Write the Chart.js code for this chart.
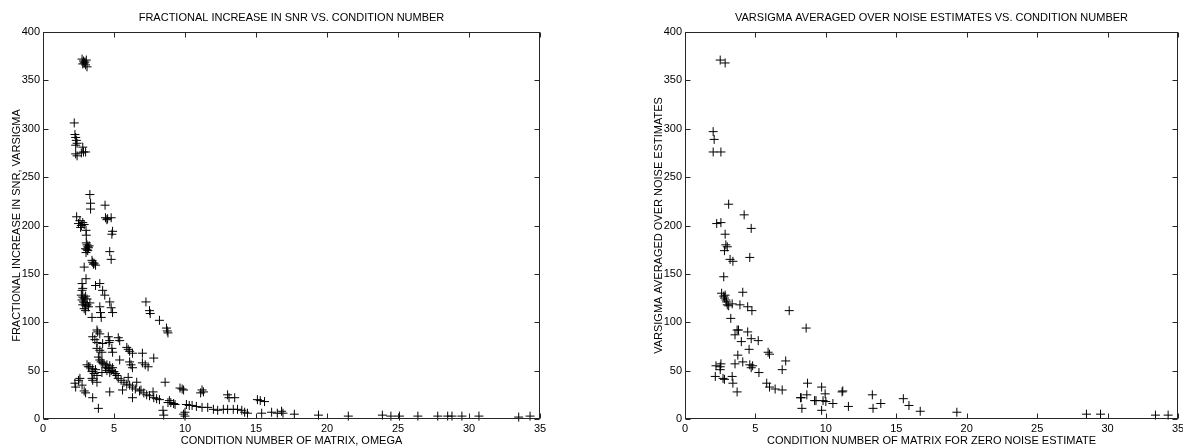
<!DOCTYPE html>
<html>
<head>
<meta charset="utf-8">
<script src="https://cdn.jsdelivr.net/npm/chart.js@4.4.1/dist/chart.umd.min.js"></script>
<style>
  html, body { margin: 0; padding: 0; background: #fff; width: 1183px; height: 448px; overflow: hidden; position: relative; }
  canvas { position: absolute; top: 0; }
  #snrChart { left: 0; }
  #avgChart { left: 642px; }
</style>
</head>
<body>
<canvas id="snrChart" width="600" height="448"></canvas>
<canvas id="avgChart" width="600" height="448"></canvas>
<script>
// tick values (same on both plots)
const condTicks = [0, 5, 10, 15, 20, 25, 30, 35];
const sigmaTicks = [0, 50, 100, 150, 200, 250, 300, 350, 400];

// left plot: [condition number of omega, fractional increase in SNR]
const snrPoints = [
  [2.75,372],[2.85,370],[2.95,369],[3.05,371],[2.8,367],[3.0,366],[3.1,364],[2.9,368],
  [2.2,306],[2.25,294],[2.3,291],[2.35,288],[2.4,285],[2.3,283],[2.3,274],[2.4,272],[2.8,281],[2.85,276],[2.7,275],[3.0,276],
  [3.3,232],[3.35,223],[3.35,217],[4.37,221],[2.37,209],[2.6,205],[2.5,202],[2.7,200],[2.8,203],[2.65,198],[2.9,201],
  [4.4,208],[4.55,207],[4.8,208],[4.5,206],[4.9,194],[4.85,191],[3.03,195],[3.05,190],
  [3.05,182],[3.1,180],[3.15,178],[3.2,177],[3.1,175],[3.0,176],[3.25,179],[3.15,174],[3.03,172],
  [4.7,173],[4.8,165],[3.45,164],[3.5,162],[3.6,161],[3.7,159],[3.55,160],[2.9,157],
  [3.03,145],[2.75,140],[2.8,135],[2.75,133],[3.7,138],[4.0,140],[4.2,133],[4.35,128],
  [2.7,128],[2.8,126],[2.9,125],[3.0,127],[2.75,123],[2.85,121],[2.95,120],[3.1,118],[3.2,116],[2.9,114],[3.0,117],[3.3,120],[3.1,124],[2.8,118],[3.0,112],
  [4.0,116],[4.05,110],[4.1,105],[3.45,105],[4.7,121],[4.8,115],[4.9,110],
  [7.25,121],[7.5,112],[7.55,109],[8.2,102],[8.7,94],[8.75,91],[8.8,89],
  [3.8,92],[3.85,90],[4.0,88],[3.5,85],[3.65,82],[3.8,79],[4.6,85],[4.7,81],[4.65,79],[5.3,84],[5.4,81],[4.2,78],
  [3.8,73],[4.0,71],[4.15,69],[4.85,73],[4.9,69],[5.9,74],[6.0,72],[6.1,70],[6.3,68],[7.0,68],[7.8,63],
  [3.9,64],[4.0,61],[4.1,59],[4.2,58],[5.4,61],[6.1,59],[6.2,56],[6.3,53],[7.0,58],[7.2,56],[7.4,54],
  [4.3,57],[4.5,56],[4.7,55],[4.9,53],[4.6,52],[4.8,50],[5.0,49],[5.1,47],[5.2,45],[4.4,53],[4.5,50],[4.7,48],
  [3.1,56],[3.3,54],[3.5,52],[3.7,51],[3.45,49],[3.6,47],[3.8,45],[4.15,48],
  [5.3,42],[5.5,40],[5.7,38],[5.9,36],[6.0,43],[6.1,35],[6.3,33],[6.5,31],[6.8,29],[6.6,38],[6.9,30],[7.1,27],[7.3,25],[7.75,28],[8.6,38],
  [7.5,24],[7.8,22],[8.0,21],[8.2,20],[8.9,19],[9.0,17],[9.2,16],[9.3,15],[8.8,17],[9.65,32],[9.8,31],[9.9,30],[11.2,30],[11.3,28],[11.1,27],
  [10.1,15],[10.3,14],[10.5,14],[10.8,13],[11.2,12],[11.6,12],[12.0,10],[12.3,9],[10.0,7],[10.0,3],[9.9,5],[8.45,9],[8.5,4],
  [2.25,37],[2.3,33],[2.5,40],[2.6,42],[2.75,35],[2.9,29],[3.0,27],[3.45,42],[3.5,40],[3.2,54],[3.8,38],[4.7,28],[5.6,30],[6.3,22],[3.9,11],[3.5,22],
  [13.0,25],[13.1,22],[13.5,22],[12.7,10],[13.0,10],[13.4,10],[13.7,10],[14.0,9],[14.2,7],[14.4,6],[15.1,20],[15.3,19],[15.6,18],[15.4,6],
  [16.1,7],[16.5,6],[16.9,6],[16.8,8],[17.7,5],[19.4,4],[21.5,3],[23.9,4],[24.5,3],[25.1,3],[26.4,3],[27.8,3],[28.5,3],[28.8,3],[29.5,3],[30.7,3],[33.5,2],[34.3,3]
];

// right plot: [condition number for zero noise estimate, averaged varsigma]
const avgPoints = [
  [2.5,371],[2.85,368],[2.0,297],[2.07,289],[2.0,276],[2.55,276],[3.1,222],[4.2,211],[2.25,202],[2.55,203],[4.7,197],[2.85,191],
  [2.9,180],[3.0,178],[2.8,174],[3.2,165],[3.4,163],[4.6,167],[2.75,147],
  [2.6,130],[2.75,127],[2.8,125],[2.9,123],[2.95,121],[3.0,118],[3.1,117],[2.85,128],[3.35,119],[4.1,131],[3.9,118],[4.45,116],[4.75,112],
  [3.25,104],[3.7,92],[3.8,92],[3.55,87],[4.45,90],[4.0,80],[4.7,83],[5.2,81],[4.55,72],[3.75,66],[3.55,57],[4.1,59],
  [4.6,56],[4.8,55],[4.7,53],[5.25,48],[5.9,69],[6.0,67],[5.8,37],[6.0,33],[6.4,31],[6.9,30],[6.9,51],[7.15,60],[7.4,112],[8.6,94],
  [2.2,55],[2.55,57],[2.5,54],[2.15,44],[2.5,51],[2.7,42],[2.8,41],[3.35,44],[3.4,37],[3.7,28],
  [8.2,22],[8.25,22],[8.3,11],[8.7,37],[8.65,25],[9.2,19],[9.3,19],[9.7,33],[9.8,19],[9.7,9],[9.95,26],[10.0,18],[10.5,16],[11.15,28],[11.2,29],[11.6,13],
  [13.3,25],[13.35,11],[13.9,16],[15.5,21],[15.9,14],[16.7,8],[19.3,7],[28.5,5],[29.5,5],[33.4,4],[34.3,4]
];

const FONT = { family: "'Liberation Sans', Arial, Helvetica, sans-serif", size: 11 };

// box round the plot with inward ticks on all four sides, like the original
const boxTicks = {
  id: 'boxTicks',
  afterDraw(chart) {
    const { ctx, chartArea: a } = chart;
    const xs = chart.scales.x, ys = chart.scales.y;
    const L = Math.round(a.left) + 0.5, R = Math.round(a.right) - 0.5;
    const T = Math.round(a.top) + 0.5, B = Math.round(a.bottom) - 0.5;
    ctx.save();
    ctx.strokeStyle = '#262626';
    ctx.lineWidth = 1;
    ctx.beginPath();
    xs.ticks.forEach(t => {
      const px = Math.round(xs.getPixelForValue(t.value)) + 0.5;
      ctx.moveTo(px, B); ctx.lineTo(px, B - 5);
      ctx.moveTo(px, T); ctx.lineTo(px, T + 5);
    });
    ys.ticks.forEach(t => {
      const py = Math.round(ys.getPixelForValue(t.value)) + 0.5;
      ctx.moveTo(L, py); ctx.lineTo(L + 5, py);
      ctx.moveTo(R, py); ctx.lineTo(R - 5, py);
    });
    ctx.stroke();
    ctx.strokeRect(L, T, R - L, B - T);
    ctx.restore();
  }
};

function makeScatter(id, points, title, xTitle, yTitle, padRight) {
  new Chart(document.getElementById(id), {
    type: 'scatter',
    data: {
      datasets: [{
        data: points.map(p => ({ x: p[0], y: p[1] })),
        pointStyle: 'cross',
        pointRadius: 4.5,
        pointHoverRadius: 4.5,
        borderColor: '#000',
        borderWidth: 1,
        clip: false
      }]
    },
    options: {
      responsive: false,
      animation: false,
      events: [],
      layout: { padding: { left: 0, right: padRight, top: 0, bottom: 0 } },
      plugins: {
        legend: { display: false },
        tooltip: { enabled: false },
        title: {
          display: true,
          text: title,
          color: '#000',
          font: { ...FONT, weight: 'normal' },
          padding: { top: 11, bottom: 7.8 }
        }
      },
      scales: {
        x: {
          type: 'linear',
          min: 0, max: 35,
          afterBuildTicks: s => { s.ticks = condTicks.map(v => ({ value: v })); },
          afterFit: s => { s.height = 29; },
          grid: { display: false, drawTicks: false },
          border: { display: false },
          ticks: { color: '#000', font: FONT, padding: 3, maxRotation: 0 },
          title: { display: true, text: xTitle, color: '#000', font: FONT, padding: { top: 0, bottom: 0 } }
        },
        y: {
          type: 'linear',
          min: 0, max: 400,
          afterBuildTicks: s => { s.ticks = sigmaTicks.map(v => ({ value: v })); },
          afterFit: s => { s.width = 43; },
          grid: { display: false, drawTicks: false },
          border: { display: false },
          ticks: { color: '#000', font: FONT, padding: 3 },
          title: { display: true, text: yTitle, color: '#000', font: FONT, padding: { top: 10.5, bottom: 0 } }
        },
        // empty spacer on the right so the title centres over the plot box
        spacer: {
          type: 'linear',
          position: 'right',
          afterFit: s => { s.width = 43; },
          grid: { display: false, drawTicks: false },
          border: { display: false },
          ticks: { display: false }
        }
      }
    },
    plugins: [boxTicks]
  });
}

makeScatter('snrChart', snrPoints,
  'FRACTIONAL INCREASE IN SNR VS. CONDITION NUMBER',
  'CONDITION NUMBER OF MATRIX, OMEGA',
  'FRACTIONAL INCREASE IN SNR, VARSIGMA', 17);

makeScatter('avgChart', avgPoints,
  'VARSIGMA AVERAGED OVER NOISE ESTIMATES VS. CONDITION NUMBER',
  'CONDITION NUMBER OF MATRIX FOR ZERO NOISE ESTIMATE',
  'VARSIGMA AVERAGED OVER NOISE ESTIMATES', 21);
</script>
</body>
</html>
